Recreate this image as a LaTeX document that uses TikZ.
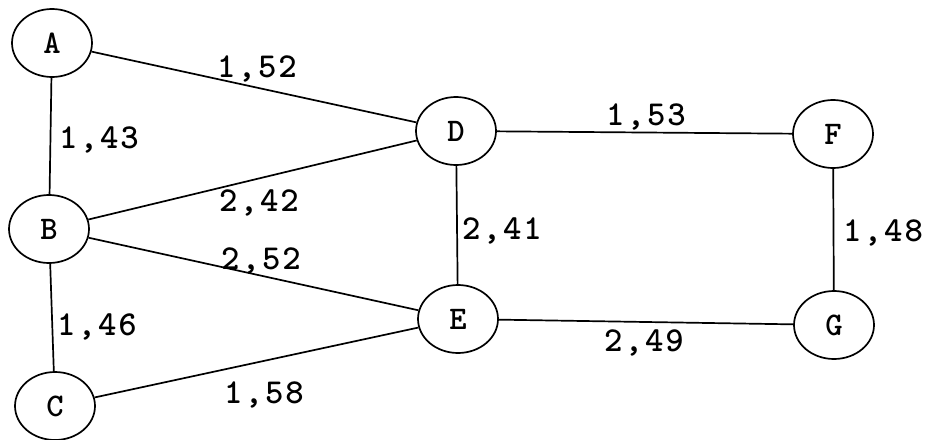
\documentclass[tikz,border=0pt]{standalone}
\usepackage{fontspec}
\usetikzlibrary{shapes.geometric}
% typewriter face with a little extra tracking, like an old Courier print
\newfontfamily\graphmono{lmmonolt10-bold.otf}[LetterSpace=6]
\begin{document}
\begin{tikzpicture}[x=1pt,y=-1pt,
  vertex/.style={draw, line width=1.7pt, ellipse, minimum width=80pt, minimum height=68pt,
    inner sep=0pt, font=\graphmono\fontsize{33}{33}\selectfont},
  edge/.style={draw, line width=1.7pt},
  weight/.style={inner sep=0pt, font=\graphmono\fontsize{35}{35}\selectfont}]
  \useasboundingbox (0,0) rectangle (931,439);
  % vertices
  \node[vertex] (A) at (52,43) {A};
  \node[vertex] (B) at (49,229) {B};
  \node[vertex] (C) at (55,406) {C};
  \node[vertex] (D) at (456,131) {D};
  \node[vertex] (E) at (458,319) {E};
  \node[vertex] (F) at (833,134) {F};
  \node[vertex] (G) at (834,325) {G};
  % edges
  \draw[edge] (A) -- (B);
  \draw[edge] (B) -- (C);
  \draw[edge] (A) -- (D);
  \draw[edge] (B) -- (D);
  \draw[edge] (B) -- (E);
  \draw[edge] (C) -- (E);
  \draw[edge] (D) -- (E);
  \draw[edge] (D) -- (F);
  \draw[edge] (E) -- (G);
  \draw[edge] (F) -- (G);
  % weights
  \node[weight] (wAD) at (257,69) {1,52};
  \node[weight] (wAB) at (99,140) {1,43};
  \node[weight] (wBD) at (259,203) {2,42};
  \node[weight] (wBE) at (261,261) {2,52};
  \node[weight] (wBC) at (97,327) {1,46};
  \node[weight] (wCE) at (264,395) {1,58};
  \node[weight] (wDF) at (646,117) {1,53};
  \node[weight] (wDE) at (502,231) {2,41};
  \node[weight] (wEG) at (644,343) {2,49};
  \node[weight] (wFG) at (883,233) {1,48};
\end{tikzpicture}
\end{document}
